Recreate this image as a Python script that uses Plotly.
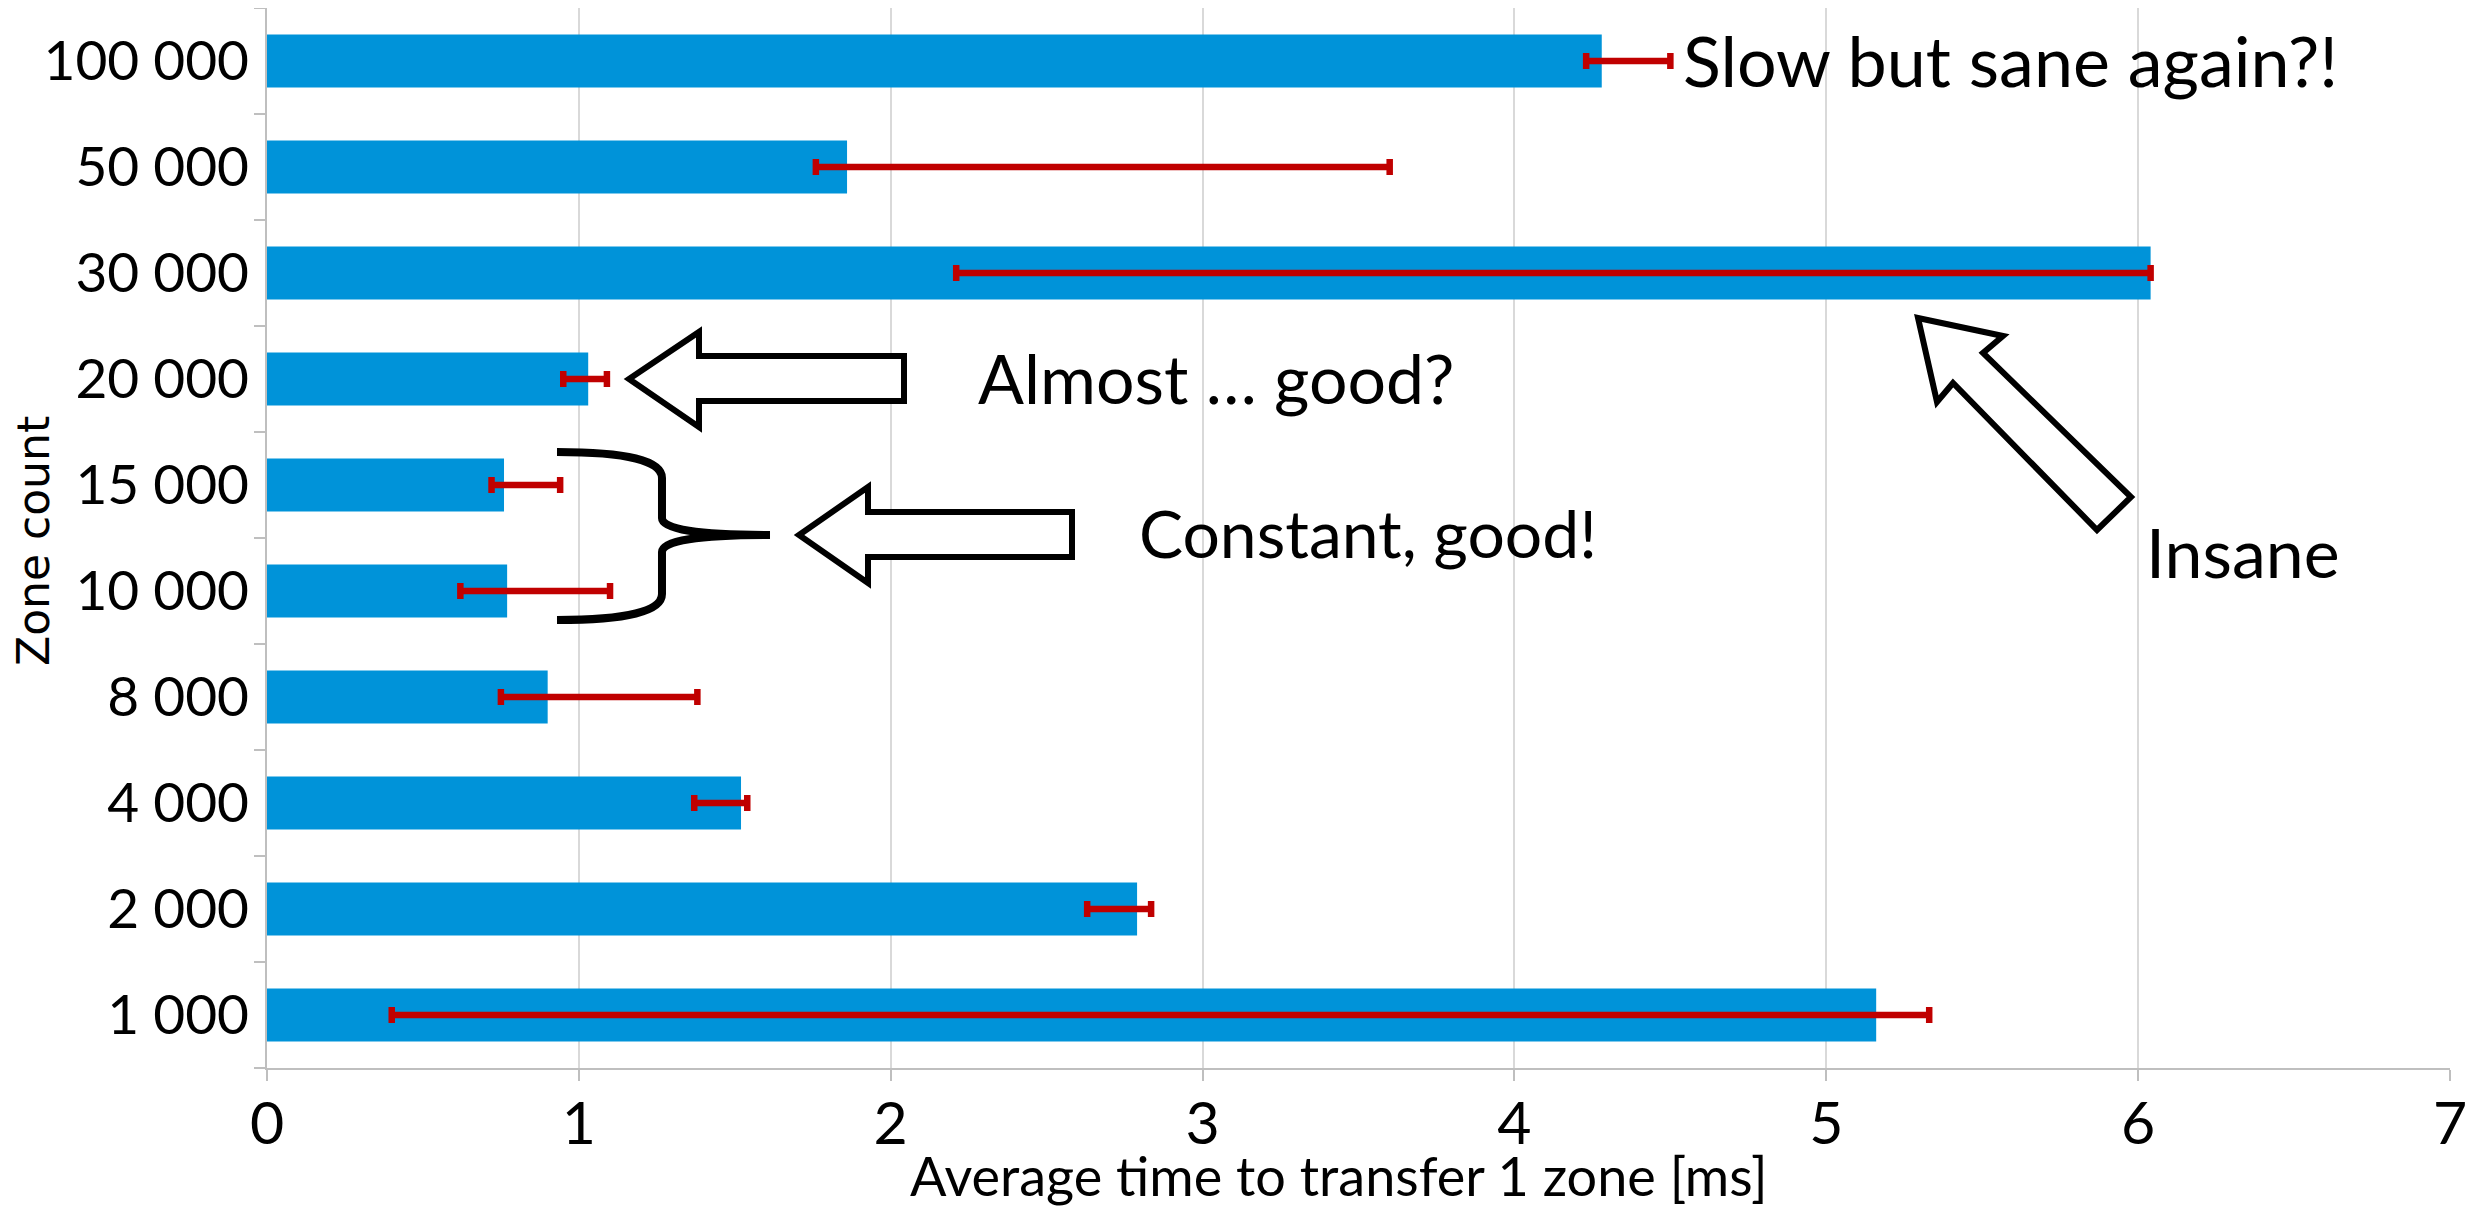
import plotly.graph_objects as go

# ---------------- data ----------------
zones = ["1 000", "2 000", "4 000", "8 000", "10 000", "15 000",
         "20 000", "30 000", "50 000", "100 000"]
avg_ms = [5.16, 2.79, 1.52, 0.90, 0.77, 0.76, 1.03, 6.04, 1.86, 4.28]
err_low = [0.40, 2.63, 1.37, 0.75, 0.62, 0.72, 0.95, 2.21, 1.76, 4.23]
err_high = [5.33, 2.835, 1.54, 1.38, 1.10, 0.94, 1.09, 6.04, 3.60, 4.50]
x_ticks = [0, 1, 2, 3, 4, 5, 6, 7]

# ---------------- layout geometry (page pixels) ----------------
PAGE_W, PAGE_H = 2479, 1211
BODY = 8                      # default body margin of the html page
W, H = PAGE_W - BODY, PAGE_H - BODY
PX0, PX1 = 267, 2450          # plot area left / right (page px)
PY0, PY1 = 8, 1068            # plot area top / bottom (page px)


def fx(px):
    return (px - PX0) / (PX1 - PX0)


def fy(py):
    return (PY1 - py) / (PY1 - PY0)


def path(points, close=True):
    s = "M " + " L ".join(f"{fx(x):.5f},{fy(y):.5f}" for x, y in points)
    return s + (" Z" if close else "")


BAR = "#0093D9"
ERR = "#C00000"
AXIS = "#BFBFBF"
GRID = "#D9D9D9"
FONT = "Lato"

plus = [h - a for h, a in zip(err_high, avg_ms)]
minus = [a - l for a, l in zip(avg_ms, err_low)]

fig = go.Figure()
fig.add_trace(go.Bar(
    y=zones, x=avg_ms, orientation="h",
    marker=dict(color=BAR, line=dict(width=0)),
    error_x=dict(type="data", symmetric=False, array=plus, arrayminus=minus,
                 color=ERR, thickness=6.5, width=8),
    showlegend=False, hoverinfo="x+y",
))

# ---------------- annotations (text) ----------------
annos = [
    dict(text="Slow but sane again?!", x=1681, y=60, size=70),
    dict(text="Almost … good?", x=976, y=377, size=68),
    dict(text="Constant, good!", x=1137, y=533, size=66),
    dict(text="Insane", x=2144, y=551, size=68),
]
annotations = []
for a in annos:
    annotations.append(dict(
        text=a["text"], x=fx(a["x"]), y=fy(a["y"]), xref="paper", yref="paper",
        xanchor="left", yanchor="middle", showarrow=False,
        font=dict(family=FONT, size=a["size"], color="black"),
    ))
# axis titles
annotations.append(dict(
    text="Average time to transfer 1 zone [ms]", x=fx(1338), y=fy(1175),
    xref="paper", yref="paper", xanchor="center", yanchor="middle",
    showarrow=False, font=dict(family=FONT, size=54, color="black"),
))
annotations.append(dict(
    text="Zone count", x=fx(34), y=fy(541), textangle=-90,
    xref="paper", yref="paper", xanchor="center", yanchor="middle",
    showarrow=False, font=dict(family="DejaVu Sans", size=44, color="black"),
))

# ---------------- shapes (arrows, brace) ----------------
arrow_almost = [(629, 379), (699, 332), (699, 356), (904, 356),
                (904, 401), (699, 401), (699, 427)]
arrow_const = [(799, 535), (868, 487), (868, 512), (1072, 512),
               (1072, 557), (868, 557), (868, 583)]
arrow_insane = [(1918, 318), (2003, 336), (1983, 353), (2131, 497),
                (2097, 530), (1953, 383), (1937, 402)]

shapes = []
for pts in (arrow_almost, arrow_const, arrow_insane):
    shapes.append(dict(type="path", path=path(pts), xref="paper", yref="paper",
                       line=dict(color="black", width=6), fillcolor="white",
                       layer="above"))


def P(x, y):
    return f"{fx(x):.5f},{fy(y):.5f}"


brace = (f"M {P(557, 452)} Q {P(662, 452)} {P(662, 478)} L {P(662, 518)} "
         f"Q {P(662, 535)} {P(770, 535)} Q {P(662, 535)} {P(662, 552)} "
         f"L {P(662, 594)} Q {P(662, 620)} {P(557, 620)}")
shapes.append(dict(type="path", path=brace, xref="paper", yref="paper",
                   line=dict(color="black", width=8), layer="above"))

fig.update_layout(
    width=W, height=H,
    margin=dict(l=PX0 - BODY, r=PAGE_W - PX1, t=PY0 - BODY,
                b=PAGE_H - PY1, pad=0, autoexpand=False),
    paper_bgcolor="white", plot_bgcolor="white",
    bargap=0.5,
    font=dict(family=FONT, color="black"),
    annotations=annotations,
    shapes=shapes,
    xaxis=dict(
        range=[0, 7], tickvals=x_ticks, ticktext=[str(v) for v in x_ticks],
        showgrid=True, gridcolor=GRID, gridwidth=2,
        showline=True, linecolor=AXIS, linewidth=2, mirror=True,
        ticks="outside", ticklen=11, tickcolor=AXIS, tickwidth=2,
        zeroline=False, ticklabelstandoff=-8,
        tickfont=dict(family=FONT, size=59, color="black"),
        automargin=False, fixedrange=True,
    ),
    yaxis=dict(
        type="category", categoryorder="array", categoryarray=zones,
        range=[-0.5, 9.5],
        showgrid=False, showline=True, linecolor=AXIS, linewidth=2,
        ticks="outside", tickson="boundaries", ticklen=11, tickcolor=AXIS,
        tickwidth=2, zeroline=False, ticklabelstandoff=5,
        tickfont=dict(family=FONT, size=55, color="black"),
        automargin=False, fixedrange=True,
    ),
)

fig.write_html("out.html")
